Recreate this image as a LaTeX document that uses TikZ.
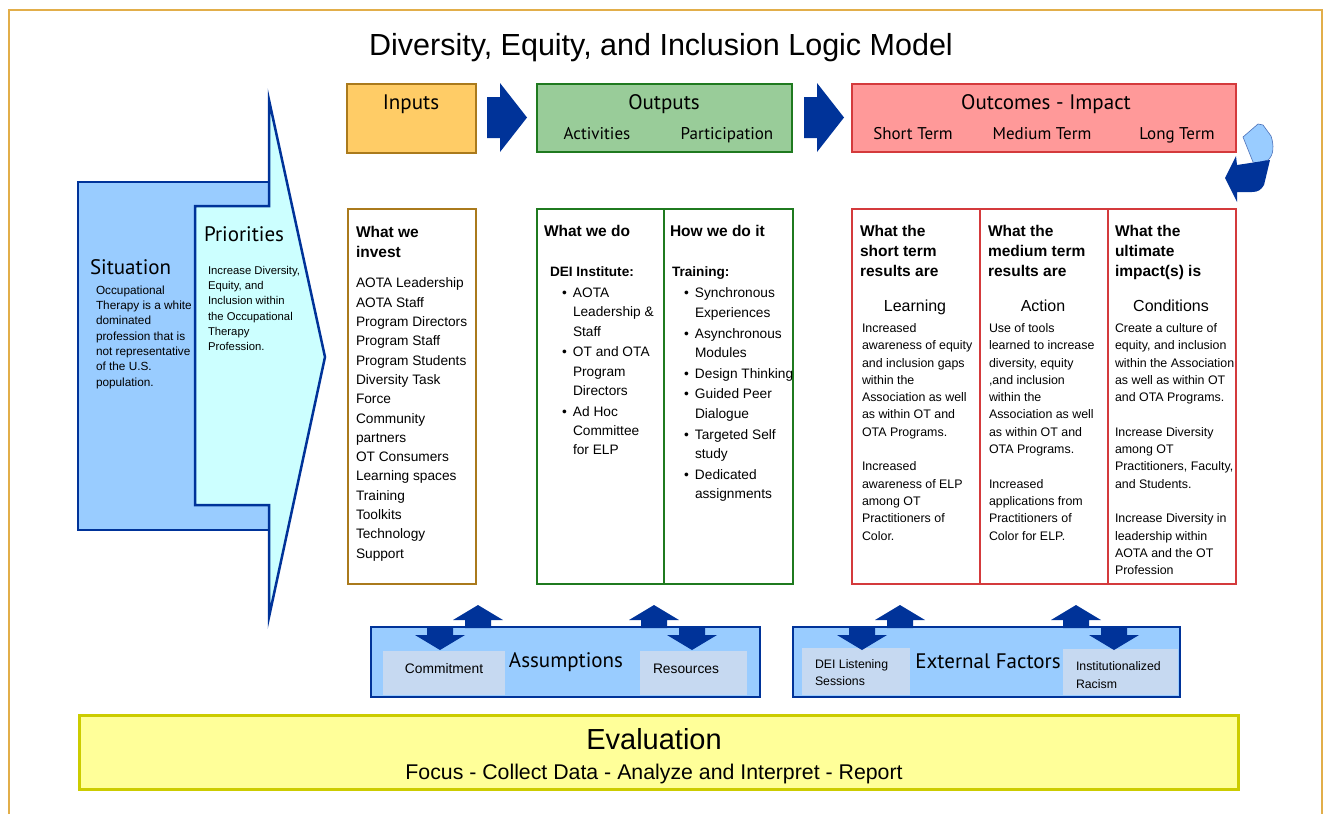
\documentclass[tikz,border=0pt]{standalone}
\usepackage{fontspec}
\setmainfont{Liberation Sans}
\newfontfamily\hdfont{PT Sans}
\definecolor{framec}{HTML}{E2AE4A}
\definecolor{inpfill}{HTML}{FFCC66}
\definecolor{inpbd}{HTML}{AA7A1C}
\definecolor{outfill}{HTML}{99CC99}
\definecolor{outbd}{HTML}{1F7A1F}
\definecolor{ocfill}{HTML}{FF9999}
\definecolor{ocbd}{HTML}{D43A3C}
\definecolor{navy}{HTML}{003399}
\definecolor{sitfill}{HTML}{99CCFF}
\definecolor{prifill}{HTML}{CCFFFF}
\definecolor{innerfill}{HTML}{C6D9F1}
\definecolor{evfill}{HTML}{FFFF99}
\definecolor{evbd}{HTML}{CCCC00}
\begin{document}
\begin{tikzpicture}[x=1pt,y=-1pt,
  every node/.style={inner sep=0pt,outer sep=0pt},
  txt/.style={anchor=north west,align=left},
  hd/.style={anchor=base,font=\hdfont\fontsize{21}{25}\selectfont},
  subhd/.style={anchor=base,font=\hdfont\fontsize{17}{20}\selectfont},
  bhead/.style={txt,font={\bfseries\fontsize{15.5}{20.3}\selectfont}},
  listtxt/.style={txt,font={\fontsize{13.7}{19.3}\selectfont}},
  octxt/.style={txt,font={\fontsize{12.4}{17.3}\selectfont}},
  ocsub/.style={anchor=base,font={\fontsize{16}{19}\selectfont}},
  smalltxt/.style={txt,font={\fontsize{11.8}{15.3}\selectfont}},
  navyline/.style={draw=navy,line width=2.5pt},
  blockarrow/.style={fill=navy,draw=none},
  innerbox/.style={fill=innerfill,draw=none}
]
\useasboundingbox (0,0) rectangle (1329,814);
% frame
\draw[framec,line width=2pt] (9,814) -- (9,10) -- (1322,10) -- (1322,814);
% title
\node[anchor=base,font=\fontsize{30.5}{36}\selectfont] (title) at (661,55) {Diversity, Equity, and Inclusion Logic Model};

% situation and priorities
\draw[navyline,fill=sitfill] (78,182) rectangle (269,530);
\draw[navyline,fill=prifill,line join=miter] (195,206) -- (269,206) -- (269,100) -- (325,357) -- (269,617) -- (269,505) -- (195,505) -- cycle;
\node[anchor=west,font=\hdfont\fontsize{21}{25}\selectfont] (sit) at (90,267) {Situation};
\node[smalltxt] (sittxt) at (96,285.8) {Occupational\\Therapy is a white\\dominated\\profession that is\\not representative\\of the U.S.\\population.};
\node[anchor=west,font=\hdfont\fontsize{21}{25}\selectfont] (pri) at (204,234) {Priorities};
\node[txt,font={\fontsize{11.3}{15.3}\selectfont}] (pritxt) at (208,266) {Increase Diversity,\\Equity, and\\Inclusion within\\the Occupational\\Therapy\\Profession.};

% header boxes
\draw[fill=inpfill,draw=inpbd,line width=2.5pt] (347,84) rectangle (476,153);
\node[hd] (inputs) at (411,109.4) {Inputs};
\draw[fill=outfill,draw=outbd,line width=2.5pt] (537,84) rectangle (792,152);
\node[hd] (outputs) at (664,109.4) {Outputs};
\node[subhd] (act) at (597,139) {Activities};
\node[subhd] (part) at (727,139) {Participation};
\draw[fill=ocfill,draw=ocbd,line width=2.5pt] (852,84) rectangle (1236,152);
\node[hd] (outcomes) at (1046,109.4) {Outcomes - Impact};
\node[subhd] (st) at (913,139) {Short Term};
\node[subhd] (mt) at (1042,139) {Medium Term};
\node[subhd] (lt) at (1177,139) {Long Term};

% block arrows between headers
\fill[blockarrow] (487,97) -- (500,97) -- (500,83) -- (527,117.5) -- (500,152) -- (500,138) -- (487,138) -- cycle;
\fill[blockarrow] (804,97) -- (817,97) -- (817,83) -- (844,117.5) -- (817,152) -- (817,138) -- (804,138) -- cycle;

% recycle icon
\draw[draw=navy!70,line width=0.6pt,fill=sitfill] (1243,137) -- (1258,124) -- (1263,125) -- (1271,136) .. controls (1274,145) and (1274,155) .. (1268,160) -- (1257,163) -- (1253,162) -- cycle;
\fill[navy] (1225,178) -- (1236,156) -- (1237,165) -- (1270,160) -- (1264,185) .. controls (1261,190) and (1258,192) .. (1252,192) -- (1237,192) -- (1237,202) -- cycle;

% inputs column
\draw[draw=inpbd,line width=2.5pt] (348,209) rectangle (476,584);
\node[bhead] (invhd) at (356,226) {What we\\invest};
\node[listtxt] (invlist) at (356,278) {AOTA Leadership\\AOTA Staff\\Program Directors\\Program Staff\\Program Students\\Diversity Task\\Force\\Community\\partners\\OT Consumers\\Learning spaces\\Training\\Toolkits\\Technology\\Support};

% outputs columns
\draw[draw=outbd,line width=2.5pt] (537,209) rectangle (793,584);
\draw[draw=outbd,line width=2.5pt] (664,209) -- (664,584);
\node[bhead] (dohd) at (544,225) {What we do};
\node[txt,font={\bfseries\fontsize{13.6}{19.3}\selectfont}] (dei) at (550,267) {DEI Institute:};
\node[listtxt] (dolist) at (573,288) {\llap{\textbullet\hspace{6pt}}AOTA\\Leadership \&\\Staff\\[1.5pt]\llap{\textbullet\hspace{6pt}}OT and OTA\\Program\\Directors\\[1.5pt]\llap{\textbullet\hspace{6pt}}Ad Hoc\\Committee\\for ELP};
\node[bhead] (howhd) at (670,225) {How we do it};
\node[txt,font={\bfseries\fontsize{13.6}{19.3}\selectfont}] (train) at (672,267) {Training:};
\node[listtxt] (howlist) at (695,288) {\llap{\textbullet\hspace{6pt}}Synchronous\\Experiences\\[1.5pt]\llap{\textbullet\hspace{6pt}}Asynchronous\\Modules\\[1.5pt]\llap{\textbullet\hspace{6pt}}Design Thinking\\[1.5pt]\llap{\textbullet\hspace{6pt}}Guided Peer\\Dialogue\\[1.5pt]\llap{\textbullet\hspace{6pt}}Targeted Self\\study\\[1.5pt]\llap{\textbullet\hspace{6pt}}Dedicated\\assignments};

% outcomes columns
\draw[draw=ocbd,line width=2.5pt] (852,209) rectangle (1236,584);
\draw[draw=ocbd,line width=2.5pt] (980,209) -- (980,584);
\draw[draw=ocbd,line width=2.5pt] (1108,209) -- (1108,584);
\node[bhead] (sthd) at (860,225) {What the\\short term\\results are};
\node[bhead] (mthd) at (988,225) {What the\\medium term\\results are};
\node[bhead] (lthd) at (1115,225) {What the\\ultimate\\impact(s) is};
\node[ocsub] (learn) at (915,311) {Learning};
\node[ocsub] (action) at (1043,311) {Action};
\node[ocsub] (cond) at (1171,311) {Conditions};
\node[octxt] (sttxt) at (862,323.5) {Increased\\awareness of equity\\and inclusion gaps\\within the\\Association as well\\as within OT and\\OTA Programs.\\[17.3pt]Increased\\awareness of ELP\\among OT\\Practitioners of\\Color.};
\node[octxt] (mttxt) at (989,323.5) {Use of tools\\learned to increase\\diversity, equity\\,and inclusion\\within the\\Association as well\\as within OT and\\OTA Programs.\\[17.3pt]Increased\\applications from\\Practitioners of\\Color for ELP.};
\node[octxt] (lttxt) at (1115,323.5) {Create a culture of\\equity, and inclusion\\within the Association\\as well as within OT\\and OTA Programs.\\[17.3pt]Increase Diversity\\among OT\\Practitioners, Faculty,\\and Students.\\[17.3pt]Increase Diversity in\\leadership within\\AOTA and the OT\\Profession};

% assumptions
\draw[navyline,fill=sitfill] (371,627) rectangle (760,697);
\fill[innerbox] (383,651) rectangle (505,695);
\fill[innerbox] (640,651) rectangle (747,695);
\node[hd] (assum) at (566,667.7) {Assumptions};
\node[anchor=base,font={\fontsize{13.8}{16}\selectfont}] (commit) at (444,673.3) {Commitment};
\node[anchor=base,font={\fontsize{13.8}{16}\selectfont}] (resour) at (686,673.3) {Resources};

% external factors
\draw[navyline,fill=sitfill] (793,627) rectangle (1180,697);
\fill[innerbox] (802,648) rectangle (910,695);
\fill[innerbox] (1063,649) rectangle (1178,695);
\node[hd] (ext) at (988,668.3) {External Factors};
\node[txt,font={\fontsize{12.3}{17.4}\selectfont}] (deils) at (815,659.3) {DEI Listening\\Sessions};
\node[txt,font={\fontsize{12.3}{17.4}\selectfont}] (instr) at (1076,662) {Institutionalized\\Racism};

% up / down arrow pairs
\foreach \cx in {478,654,900,1076}{
  \fill[blockarrow] (\cx-13,628) -- (\cx-13,620) -- (\cx-25,620) -- (\cx,605) -- (\cx+25,620) -- (\cx+13,620) -- (\cx+13,628) -- cycle;
}
\foreach \cx in {440,692,862,1114}{
  \fill[blockarrow] (\cx-13,626) -- (\cx-13,635) -- (\cx-25,635) -- (\cx,650) -- (\cx+25,635) -- (\cx+13,635) -- (\cx+13,626) -- cycle;
}

% evaluation
\draw[fill=evfill,draw=evbd,line width=3pt] (79,715) rectangle (1238,789);
\node[anchor=base,font={\fontsize{29}{34}\selectfont}] (eval) at (654,749) {Evaluation};
\node[anchor=base,font={\fontsize{21.3}{24}\selectfont}] (evalsub) at (654,779.5) {Focus - Collect Data - Analyze and Interpret - Report};
\end{tikzpicture}
\end{document}
